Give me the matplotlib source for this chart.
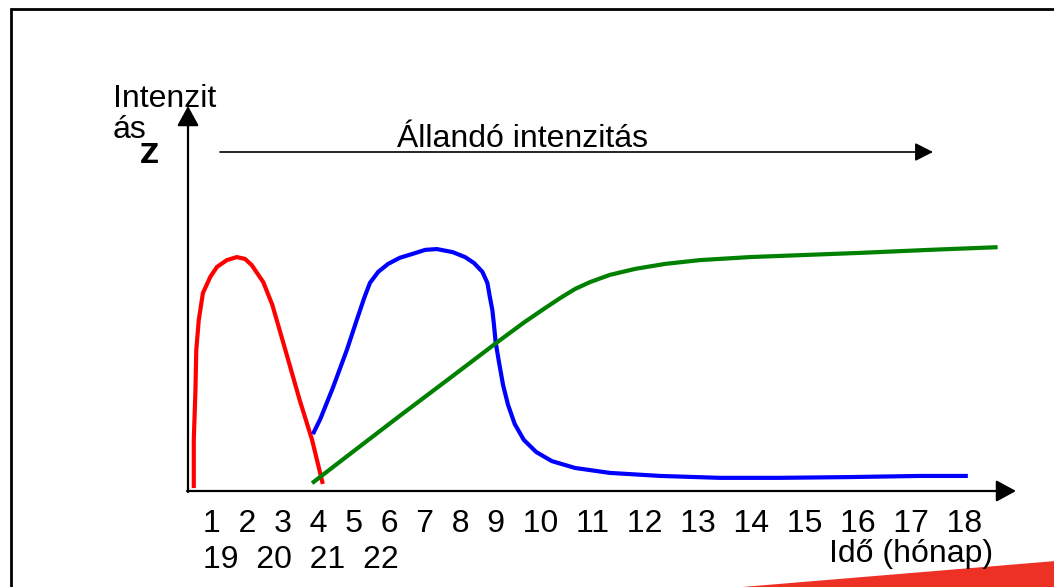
import matplotlib.pyplot as plt
from matplotlib.patches import Polygon

# relative units: time 0-100 along the x arrow, intensity 0-100 up the y arrow
red_x = [0.7, 0.7, 0.9, 1.0, 1.3, 1.8, 2.7, 3.5, 4.7, 5.9, 6.9, 7.7, 9.1, 10.2, 11.7, 13.5, 15.0, 16.3]
red_y = [0.5, 13.2, 26.3, 36.8, 44.7, 51.8, 56.1, 58.7, 60.5, 61.3, 60.8, 59.2, 54.7, 48.7, 37.4, 23.7, 13.2, 1.6]

blue_x = [15.1, 16.0, 17.5, 19.2, 20.4, 21.3, 22.0, 23.0, 24.2, 25.6, 27.1, 28.7, 30.1, 32.0, 33.5,
          34.6, 35.6, 36.2, 36.5, 36.8, 37.0, 37.2, 37.6, 38.1, 38.7, 39.5, 40.6, 42.1, 44.0, 46.8,
          51.0, 57.1, 64.3, 71.6, 80.0, 88.5, 94.3]
blue_y = [14.7, 18.7, 26.8, 36.8, 44.7, 50.5, 54.5, 57.4, 59.5, 61.1, 62.1, 63.2, 63.4, 62.6, 61.3,
          59.7, 57.4, 54.5, 50.8, 47.4, 43.4, 38.9, 33.7, 27.6, 22.4, 17.4, 13.2, 10.0, 7.6, 5.8,
          4.5, 3.7, 3.2, 3.2, 3.4, 3.7, 3.7]

green_x = [15.0, 19.6, 25.6, 31.7, 37.4, 40.7, 43.2, 45.0, 46.8, 48.6, 51.0, 54.1, 57.7, 61.9,
           68.0, 74.0, 81.3, 89.7, 97.9]
green_y = [1.8, 9.5, 19.5, 29.5, 38.9, 44.2, 47.9, 50.5, 52.9, 54.7, 56.6, 58.2, 59.5, 60.5,
           61.3, 61.8, 62.4, 63.2, 63.9]

month_row1 = [str(m) for m in range(1, 19)]
month_row2 = [str(m) for m in range(19, 23)]

W, H = 1054, 587
FONT = "Liberation Sans"

fig = plt.figure(figsize=(W / 100, H / 100), dpi=100)

# overlay in pixel coordinates for frame, arrows and text
bg = fig.add_axes([0, 0, 1, 1])
bg.set_xlim(0, W)
bg.set_ylim(H, 0)
bg.axis("off")

# slide frame (left and top edges visible)
bg.plot([10.5, 10.5, W + 5], [H + 5, 8.5, 8.5], color="black", lw=2, solid_joinstyle="miter")

# red swoosh in bottom-right corner
bg.add_patch(Polygon([(718, H + 2), (W + 2, 561), (W + 2, H + 2)], closed=True,
                     facecolor="#ED3124", edgecolor="none"))

arrow_kw = dict(arrowstyle="-|>,head_length=0.55,head_width=0.3", color="black",
                shrinkA=0, shrinkB=0, mutation_scale=22)
# axes
bg.annotate("", xy=(1016, 491), xytext=(187, 491), arrowprops=dict(lw=1.6, **arrow_kw))
bg.annotate("", xy=(188, 106), xytext=(188, 492), arrowprops=dict(lw=1.6, **arrow_kw))
# constant intensity arrow
bg.annotate("", xy=(933, 152), xytext=(220, 152),
            arrowprops=dict(arrowstyle="-|>,head_length=0.55,head_width=0.28", color="black",
                            shrinkA=0, shrinkB=0, mutation_scale=20, lw=1.2))

bg.text(397, 147, "Állandó intenzitás", fontsize=23, family=FONT, va="baseline", ha="left")
bg.text(113, 107, "Intenzit", fontsize=23, family=FONT, va="baseline", ha="left")
bg.text(113, 138, "ás", fontsize=23, family=FONT, va="baseline", ha="left")
bg.text(140, 163, "Z", fontsize=19, family="DejaVu Sans", fontweight="bold",
        va="baseline", ha="left")

bg.text(203, 532, "  ".join(month_row1), fontsize=23, family=FONT, va="baseline", ha="left")
bg.text(203, 568, "  ".join(month_row2), fontsize=23, family=FONT, va="baseline", ha="left")
bg.text(829, 562, "Idő (hónap)", fontsize=23, family=FONT, va="baseline", ha="left")

# curves
ax = fig.add_axes([188 / W, (H - 490) / H, 380 / W * 827 / 380, 380 / H])
ax.set_xlim(0, 100)
ax.set_ylim(0, 100)
ax.axis("off")
line_kw = dict(lw=3, solid_joinstyle="round", solid_capstyle="butt", clip_on=False)
ax.plot(red_x, red_y, color="#FF0000", **line_kw)
ax.plot(blue_x, blue_y, color="#0000FF", **line_kw)
ax.plot(green_x, green_y, color="#008000", **line_kw)

fig.savefig("out.png", dpi=100)
